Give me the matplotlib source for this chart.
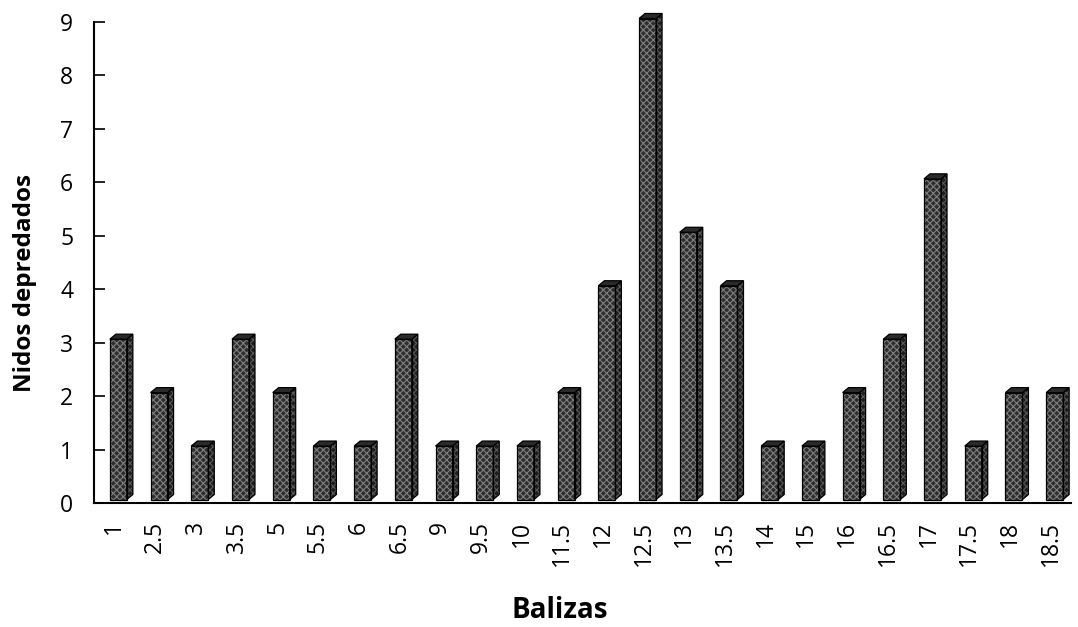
import matplotlib
matplotlib.use('Agg')
import matplotlib.pyplot as plt
from matplotlib.patches import Polygon
import numpy as np

# datos
balizas = ['1', '2.5', '3', '3.5', '5', '5.5', '6', '6.5', '9', '9.5', '10', '11.5',
           '12', '12.5', '13', '13.5', '14', '15', '16', '16.5', '17', '17.5', '18', '18.5']
nidos = [3, 2, 1, 3, 2, 1, 1, 3, 1, 1, 1, 2, 4, 9, 5, 4, 1, 1, 2, 3, 6, 1, 2, 2]

plt.rcParams['font.family'] = ['Open Sans', 'DejaVu Sans']
plt.rcParams['hatch.linewidth'] = 0.8

W, H = 1078, 627
fig = plt.figure(figsize=(W / 100, H / 100), dpi=100)
left, right, top, bottom = 94, 1071, 22, 503
ax = fig.add_axes([left / W, 1 - bottom / H, (right - left) / W, (bottom - top) / H])

n = len(balizas)
x = np.arange(n)
ax.set_xlim(-0.5, n - 0.5)
ax.set_ylim(0, 9)

# pixeles -> unidades de datos
px_x = (right - left) / n
px_y = (bottom - top) / 9.0
shift = 4 / px_x       # cara frontal algo a la derecha
lift = 3.5 / px_y      # barras un poco elevadas (suelo 3D)
dx = 6 / px_x          # profundidad
dy = 5 / px_y
w = 17 / px_x

xs = x + shift
# cara frontal con trama
ax.bar(xs, nidos, width=w, bottom=lift, color='#2e2e2e', edgecolor='#808080',
       linewidth=0, hatch='xxxxx', zorder=3, clip_on=False)
ax.bar(xs, nidos, width=w, bottom=lift, fill=False, edgecolor='black',
       linewidth=0.9, zorder=4, clip_on=False)

for xi, v in zip(xs, nidos):
    x0, x1 = xi - w / 2, xi + w / 2
    y0, y1 = lift, lift + v
    side = Polygon([(x1, y0), (x1 + dx, y0 + dy), (x1 + dx, y1 + dy), (x1, y1)],
                   closed=True, facecolor='#1e1e1e', edgecolor='#5a5a5a',
                   hatch='xxxxx', linewidth=0, zorder=3, clip_on=False)
    ax.add_patch(side)
    ax.add_patch(Polygon(side.get_xy(), closed=True, fill=False,
                         edgecolor='black', linewidth=0.9, zorder=4, clip_on=False))
    tapa = Polygon([(x0, y1), (x0 + dx, y1 + dy), (x1 + dx, y1 + dy), (x1, y1)],
                   closed=True, facecolor='#2a2a2a', edgecolor='black',
                   linewidth=0.9, zorder=4, clip_on=False)
    ax.add_patch(tapa)

for s in ['top', 'right']:
    ax.spines[s].set_visible(False)
for s in ['left', 'bottom']:
    ax.spines[s].set_linewidth(1.5)

ax.set_yticks(range(10))
ax.tick_params(axis='y', direction='in', length=8, width=1.2, pad=15, labelsize=16.5)
ax.set_xticks(x)
ax.set_xticklabels(balizas, rotation=90)
ax.tick_params(axis='x', length=0, pad=13, labelsize=16.5)

ax.set_ylabel('Nidos depredados', fontsize=17.5, fontweight='bold')
ax.set_xlabel('Balizas', fontsize=20, fontweight='bold')
ax.yaxis.set_label_coords((25 - left) / (right - left), (bottom - 283) / (bottom - top))
ax.xaxis.set_label_coords((560 - left) / (right - left), -(610 - bottom) / (bottom - top))
ax.yaxis.label.set_va('center')
ax.xaxis.label.set_va('center')

fig.savefig('out.png', dpi=100)
